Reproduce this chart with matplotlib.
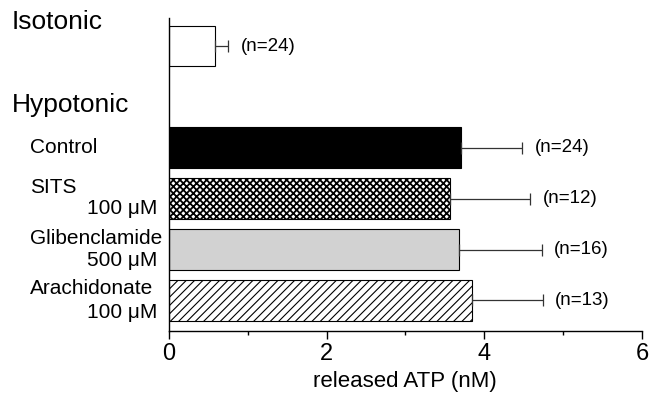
import matplotlib
matplotlib.use("Agg")
import matplotlib.pyplot as plt
from matplotlib.ticker import MultipleLocator

plt.rcParams['font.family'] = ['Liberation Sans', 'DejaVu Sans']

# Data
groups = ["Isotonic", "Control", "SITS", "Glibenclamide", "Arachidonate"]
values = [0.58, 3.71, 3.57, 3.68, 3.84]
errors = [0.17, 0.77, 1.01, 1.05, 0.90]
n_labels = ["(n=24)", "(n=24)", "(n=12)", "(n=16)", "(n=13)"]
positions = [5, 3, 2, 1, 0]

facecolors = ["white", "black", "white", "#d2d2d2", "white"]
hatches = [None, None, "xxxxx", None, "////"]
hatch_lw = [0.8, 0.8, 1.3, 0.8, 0.8]

fig = plt.figure(figsize=(6.57, 3.93), dpi=100)
ax = fig.add_axes([0.257, 0.158, 0.72, 0.796])

for pos, v, e, fc, h, hl, nl in zip(positions, values, errors, facecolors, hatches, hatch_lw, n_labels):
    plt.rcParams['hatch.linewidth'] = hl
    ax.barh(pos, v, height=0.8, color=fc, edgecolor="black", linewidth=0.8,
            hatch=h, zorder=2)
    ax.errorbar(v, pos, xerr=[[0], [e]], fmt="none", ecolor="#333333",
                elinewidth=0.9, capsize=4, capthick=0.9, zorder=3)
    ax.annotate(nl, xy=(v + e, pos), xytext=(9, 0), textcoords="offset points",
                va="center", ha="left", fontsize=13.5)

ax.set_xlim(0, 6)
ax.set_ylim(-0.6, 5.55)
ax.xaxis.set_major_locator(MultipleLocator(2))
ax.xaxis.set_minor_locator(MultipleLocator(1))
ax.tick_params(axis="x", which="major", length=6, width=1, labelsize=17, pad=3)
ax.tick_params(axis="x", which="minor", length=3, width=1)
ax.set_yticks([])
for s in ["top", "right"]:
    ax.spines[s].set_visible(False)
ax.spines["left"].set_linewidth(1)
ax.spines["bottom"].set_linewidth(1)
ax.set_xlabel("released ATP (nM)", fontsize=16, labelpad=4)

# Row labels
xy = ("figure fraction", "data")
ax.annotate("Isotonic", xy=(0.018, 5.47), xycoords=xy, fontsize=19, va="center", ha="left")
ax.annotate("Hypotonic", xy=(0.018, 3.84), xycoords=xy, fontsize=19, va="center", ha="left")
ax.annotate("Control", xy=(0.046, 3.0), xycoords=xy, fontsize=15, va="center", ha="left")
ax.annotate("SITS", xy=(0.046, 2.22), xycoords=xy, fontsize=15, va="center", ha="left")
ax.annotate("100 μM", xy=(0.239, 1.8), xycoords=xy, fontsize=15, va="center", ha="right")
ax.annotate("Glibenclamide", xy=(0.046, 1.22), xycoords=xy, fontsize=15, va="center", ha="left")
ax.annotate("500 μM", xy=(0.239, 0.78), xycoords=xy, fontsize=15, va="center", ha="right")
ax.annotate("Arachidonate", xy=(0.046, 0.24), xycoords=xy, fontsize=15, va="center", ha="left")
ax.annotate("100 μM", xy=(0.239, -0.23), xycoords=xy, fontsize=15, va="center", ha="right")

fig.savefig("out.png", dpi=100)
